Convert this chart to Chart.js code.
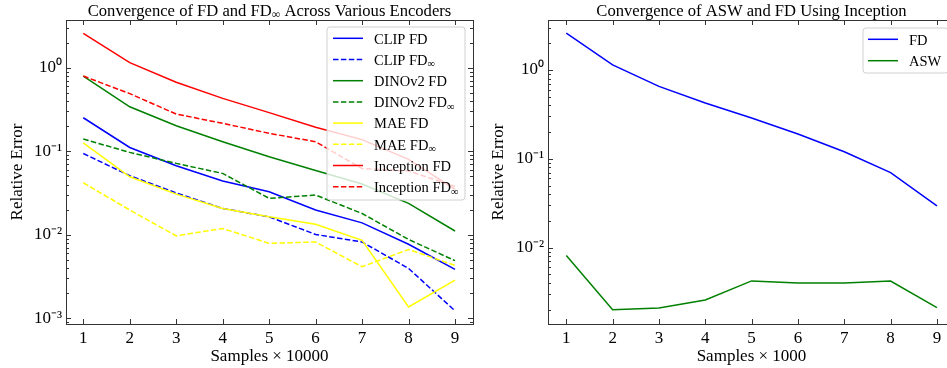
<!DOCTYPE html>
<html><head><meta charset="utf-8">
<script src="https://cdn.jsdelivr.net/npm/chart.js@4.4.0/dist/chart.umd.min.js"></script>
<style>
html,body{margin:0;padding:0;background:#fff;overflow:hidden;}
#wrap{position:relative;width:947px;height:368px;overflow:hidden;background:#fff;}
#c1{position:absolute;left:0;top:0;}
#c2{position:absolute;left:480px;top:0;}
</style></head><body>
<div id="wrap"><canvas id="c1" width="480" height="368"></canvas><canvas id="c2" width="480" height="368"></canvas></div>
<script>
// ---- data ----
const samples = [1, 2, 3, 4, 5, 6, 7, 8, 9];
const clipFD     = [0.252, 0.111, 0.067, 0.044, 0.0327, 0.0198, 0.0139, 0.0077, 0.00385];
const clipFDinf  = [0.094, 0.051, 0.0318, 0.0207, 0.0164, 0.0101, 0.0082, 0.00396, 0.00123];
const dinoFD     = [0.795, 0.341, 0.202, 0.13, 0.086, 0.059, 0.0405, 0.0238, 0.0111];
const dinoFDinf  = [0.14, 0.097, 0.0716, 0.0543, 0.0273, 0.0299, 0.018, 0.0088, 0.0049];
const maeFD      = [0.126, 0.0495, 0.0307, 0.0207, 0.0164, 0.0134, 0.0086, 0.00137, 0.00287];
const maeFDinf   = [0.042, 0.0198, 0.0097, 0.0119, 0.0079, 0.0082, 0.00414, 0.00668, 0.0043];
const incFD      = [2.58, 1.15, 0.67, 0.43, 0.29, 0.194, 0.138, 0.08, 0.035];
const incFDinf   = [0.795, 0.49, 0.279, 0.216, 0.164, 0.13, 0.062, 0.058, 0.038];
const rightFD    = [2.6, 1.14, 0.655, 0.425, 0.288, 0.19, 0.12, 0.07, 0.0295];
const rightASW   = [0.00815, 0.00199, 0.00209, 0.00257, 0.00421, 0.004, 0.004, 0.0042, 0.00211];

const xTicks = [1, 2, 3, 4, 5, 6, 7, 8, 9];
const leftYTicks = [0.001, 0.01, 0.1, 1];
const leftYTickLabels = ['10\u207B\u00B3', '10\u207B\u00B2', '10\u207B\u00B9', '10\u2070'];
const rightYTicks = [0.01, 0.1, 1];
const rightYTickLabels = ['10\u207B\u00B2', '10\u207B\u00B9', '10\u2070'];

const leftTitle = 'Convergence of FD and FD\u221E Across Various Encoders';
const rightTitle = 'Convergence of ASW and FD Using Inception';
const leftXTitle = 'Samples \u00D7 10000';
const rightXTitle = 'Samples \u00D7 1000';
const yTitle = 'Relative Error';

const leftSeries = [
  {label: 'CLIP FD', values: clipFD, color: '#0000ff', dash: false},
  {label: 'CLIP FD\u221E', values: clipFDinf, color: '#0000ff', dash: true},
  {label: 'DINOv2 FD', values: dinoFD, color: '#008000', dash: false},
  {label: 'DINOv2 FD\u221E', values: dinoFDinf, color: '#008000', dash: true},
  {label: 'MAE FD', values: maeFD, color: '#ffff00', dash: false},
  {label: 'MAE FD\u221E', values: maeFDinf, color: '#ffff00', dash: true},
  {label: 'Inception FD', values: incFD, color: '#ff0000', dash: false},
  {label: 'Inception FD\u221E', values: incFDinf, color: '#ff0000', dash: true}
];
const rightSeries = [
  {label: 'FD', values: rightFD, color: '#0000ff', dash: false},
  {label: 'ASW', values: rightASW, color: '#008000', dash: false}
];

const FONT = '"Liberation Serif", "Times New Roman", serif';
Chart.defaults.font.family = FONT;
Chart.defaults.color = '#000';

function drawRich(ctx, text, x, y, size, align) {
  const parts = []; let buf = '';
  for (const ch of text) {
    if (ch === '\u221E') { if (buf) parts.push({t: buf, sub: false}); parts.push({t: ch, sub: true}); buf = ''; }
    else buf += ch;
  }
  if (buf) parts.push({t: buf, sub: false});
  const fN = size + 'px ' + FONT, fS = (size * 0.72) + 'px ' + FONT;
  let w = 0;
  parts.forEach(p => { ctx.font = p.sub ? fS : fN; p.w = ctx.measureText(p.t).width; w += p.w; });
  let cx = align === 'center' ? x - w / 2 : x;
  ctx.textAlign = 'left'; ctx.textBaseline = 'alphabetic'; ctx.fillStyle = '#000';
  parts.forEach(p => { ctx.font = p.sub ? fS : fN; ctx.fillText(p.t, cx, y + (p.sub ? size * 0.18 : 0)); cx += p.w; });
}

const deco = {
  id: 'deco',
  afterDatasetsDraw(chart, args, o) {
    const ctx = chart.ctx;
    const L = o.legend;
    ctx.save();
    const r = 3;
    ctx.beginPath();
    ctx.moveTo(L.x + r, L.y);
    ctx.lineTo(L.x + L.w - r, L.y); ctx.quadraticCurveTo(L.x + L.w, L.y, L.x + L.w, L.y + r);
    ctx.lineTo(L.x + L.w, L.y + L.h - r); ctx.quadraticCurveTo(L.x + L.w, L.y + L.h, L.x + L.w - r, L.y + L.h);
    ctx.lineTo(L.x + r, L.y + L.h); ctx.quadraticCurveTo(L.x, L.y + L.h, L.x, L.y + L.h - r);
    ctx.lineTo(L.x, L.y + r); ctx.quadraticCurveTo(L.x, L.y, L.x + r, L.y);
    ctx.closePath();
    ctx.fillStyle = 'rgba(255,255,255,0.8)';
    ctx.fill();
    ctx.strokeStyle = '#d0d0d0'; ctx.lineWidth = 1;
    ctx.stroke();
    chart.data.datasets.forEach((ds, i) => {
      const cy = L.row0 + i * L.step;
      ctx.beginPath();
      ctx.setLineDash(ds.borderDash || []);
      ctx.strokeStyle = ds.borderColor; ctx.lineWidth = 1.5;
      ctx.moveTo(L.lineX0, cy); ctx.lineTo(L.lineX1, cy); ctx.stroke();
      ctx.setLineDash([]);
      drawRich(ctx, ds.label, L.textX, cy + 5.2, L.font, 'left');
    });
    ctx.restore();
  },
  afterDraw(chart, args, o) {
    const ctx = chart.ctx;
    const {left, right, top, bottom} = chart.chartArea;
    const xs = chart.scales.x, ys = chart.scales.y;
    ctx.save();
    ctx.strokeStyle = '#333'; ctx.lineWidth = 1;
    ctx.beginPath();
    xTicks.forEach(v => {
      const px = Math.round(xs.getPixelForValue(v)) + 0.5;
      ctx.moveTo(px, bottom); ctx.lineTo(px, bottom - 5);
      ctx.moveTo(px, top); ctx.lineTo(px, top + 5);
    });
    const lo = Math.floor(Math.log10(ys.min)), hi = Math.ceil(Math.log10(ys.max));
    for (let d = lo; d <= hi; d++) {
      for (let k = 1; k <= 9; k++) {
        const v = k * Math.pow(10, d);
        if (v < ys.min || v > ys.max) continue;
        const py = Math.round(ys.getPixelForValue(v)) + 0.5;
        const len = k === 1 ? 5 : 3;
        ctx.moveTo(left, py); ctx.lineTo(left + len, py);
        ctx.moveTo(right, py); ctx.lineTo(right - len, py);
      }
    }
    ctx.stroke();
    ctx.strokeRect(Math.round(left) + 0.5, Math.round(top) + 0.5, Math.round(right - left), Math.round(bottom - top));
    drawRich(ctx, o.title, (left + right) / 2, 15.5, 16.6, 'center');
    ctx.restore();
  }
};

function makeChart(canvas, cfg) {
  const n = cfg.series.length;
  return new Chart(canvas, {
    type: 'line',
    data: {
      datasets: cfg.series.map((s, i) => ({
        label: s.label,
        data: samples.map((x, j) => ({x: x, y: s.values[j]})),
        borderColor: s.color,
        backgroundColor: s.color,
        borderDash: s.dash ? [5.5, 2.4] : [],
        borderWidth: 1.5,
        pointRadius: 0,
        pointHoverRadius: 0,
        fill: false,
        tension: 0,
        order: n - 1 - i
      }))
    },
    options: {
      responsive: false, animation: false, devicePixelRatio: 1,
      layout: {padding: {top: 20, right: cfg.padRight, left: 0, bottom: 0}},
      plugins: {legend: {display: false}, tooltip: {enabled: false}, title: {display: false},
        deco: {title: cfg.title, legend: cfg.legend}},
      scales: {
        x: {
          type: 'linear', min: cfg.xMin, max: cfg.xMax,
          afterBuildTicks: s => { s.ticks = xTicks.map(v => ({value: v})); },
          afterFit: s => { s.height = 44; },
          grid: {display: false, drawTicks: false},
          border: {display: false},
          ticks: {padding: 4, color: '#000', font: {size: 17}, maxRotation: 0, autoSkip: false, callback: v => String(v)},
          title: {display: true, text: cfg.xTitle, color: '#000', font: {size: 17}, padding: {top: 0, bottom: 1.5}}
        },
        y: {
          type: 'logarithmic', min: cfg.yMin, max: cfg.yMax,
          afterBuildTicks: s => { s.ticks = cfg.yTicks.map(v => ({value: v, major: true})); },
          afterFit: s => { s.width = cfg.yWidth; },
          grid: {display: false, drawTicks: false},
          border: {display: false},
          ticks: {padding: 4, color: '#000', font: {size: 17}, autoSkip: false,
            callback: v => { const i = cfg.yTicks.findIndex(t => Math.abs(t - v) / t < 1e-6); return i >= 0 ? cfg.yLabels[i] : ''; }},
          title: {display: true, text: yTitle, color: '#000', font: {size: 17}, padding: {top: cfg.yTitlePad, bottom: 0}}
        }
      }
    },
    plugins: [deco]
  });
}

makeChart(document.getElementById('c1'), {
  series: leftSeries, title: leftTitle, xTitle: leftXTitle,
  xMin: 0.628, xMax: 9.387, yMin: 8.55e-4, yMax: 3.73,
  yTicks: leftYTicks, yLabels: leftYTickLabels,
  yWidth: 66, padRight: 7, yTitlePad: 7.3,
  legend: {x: 327, y: 27, w: 138, h: 173, row0: 38.3, step: 21.2, lineX0: 333, lineX1: 363, textX: 374, font: 14.5}
});
makeChart(document.getElementById('c2'), {
  series: rightSeries, title: rightTitle, xTitle: rightXTitle,
  xMin: 0.605, xMax: 9.39, yMin: 1.377e-3, yMax: 3.66,
  yTicks: rightYTicks, yLabels: rightYTickLabels,
  yWidth: 68, padRight: 5, yTitlePad: 8.3,
  legend: {x: 383, y: 28, w: 85, h: 45, row0: 39.3, step: 21.4, lineX0: 388, lineX1: 418, textX: 429, font: 14.5}
});
</script>
</body></html>
